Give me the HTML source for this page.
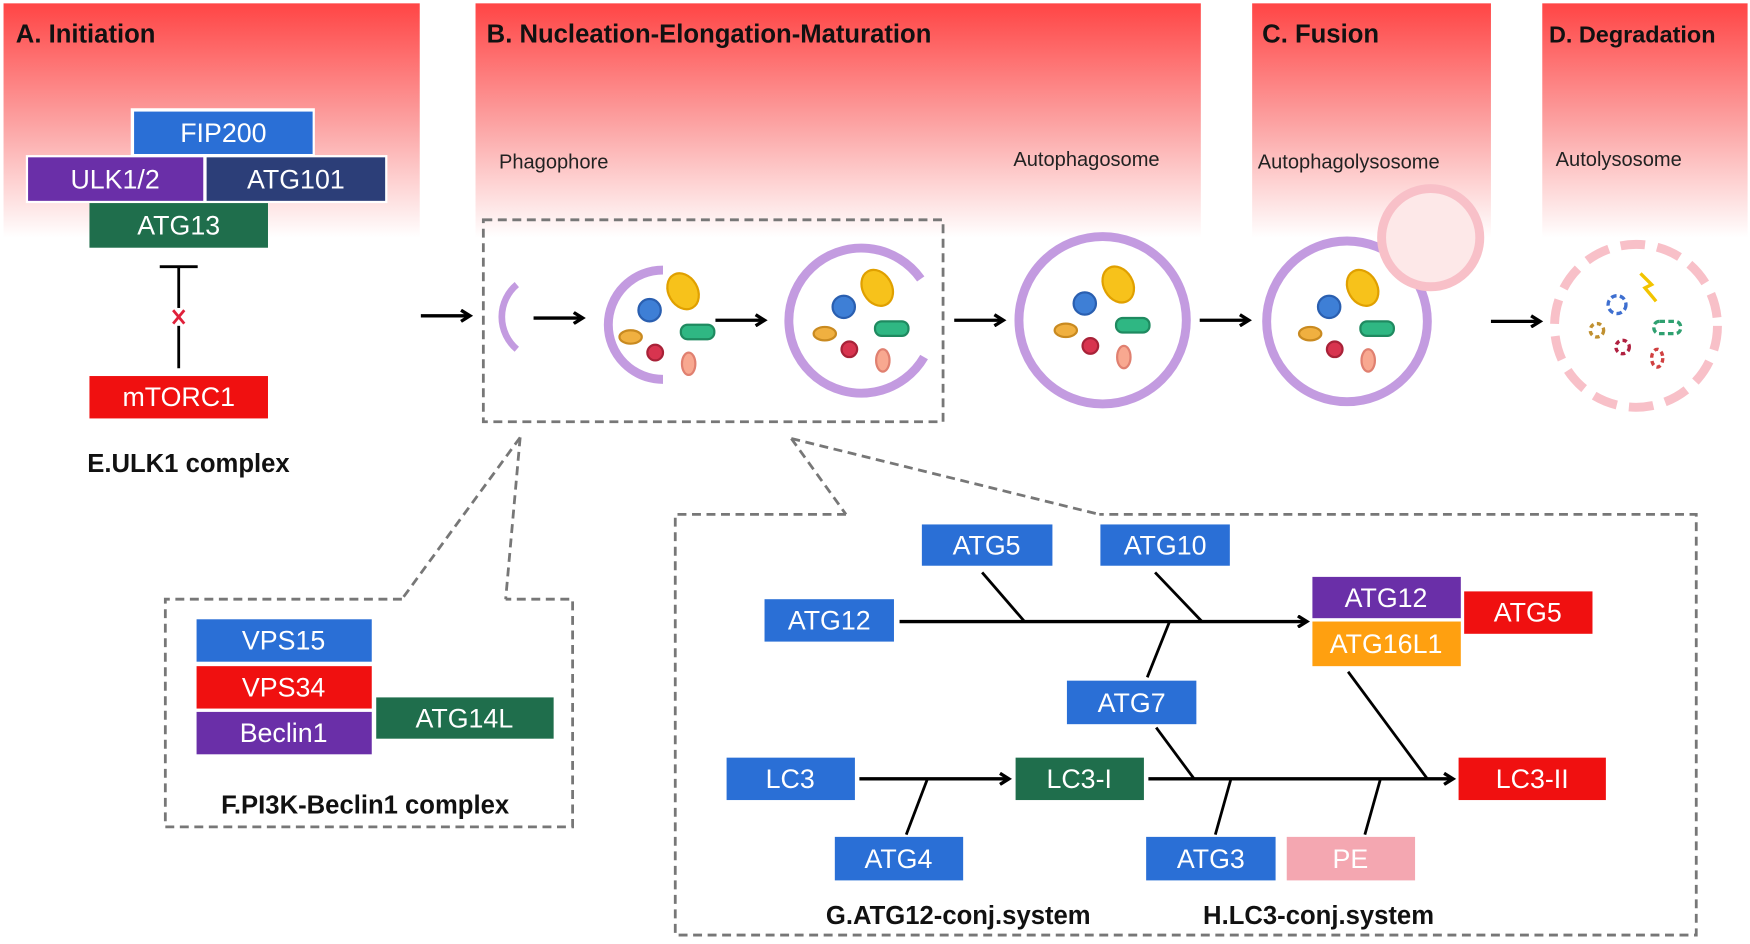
<!DOCTYPE html>
<html><head><meta charset="utf-8"><style>
html,body{margin:0;padding:0;background:#fff}
svg{display:block}
text{font-family:"Liberation Sans",Arial,sans-serif}
.t{font-size:24px;fill:#fff;text-anchor:middle;dominant-baseline:central}
.h{font-size:23px;font-weight:bold;fill:#111}
.s{font-size:18px;fill:#222}
.ln{stroke:#000;stroke-width:2.5;fill:none}
.ar{stroke:#000;stroke-width:3;fill:none}
.dash{stroke:#777;stroke-width:2.5;fill:none;stroke-dasharray:8 5}
.mem{fill:none;stroke:#c39be0;stroke-width:8}
</style></head><body>
<svg width="1750" height="944" viewBox="0 0 1568 846" xmlns="http://www.w3.org/2000/svg">
<defs>
<linearGradient id="g" x1="0" y1="0" x2="0" y2="1">
<stop offset="0" stop-color="#ff4545"/><stop offset="0.5" stop-color="#fca0a0"/><stop offset="1" stop-color="#ffffff"/>
</linearGradient>
<marker id="ar" markerWidth="12" markerHeight="12" refX="9" refY="6" orient="auto" markerUnits="userSpaceOnUse">
<path d="M1,1 L9,6 L1,11" fill="none" stroke="#000" stroke-width="3"/></marker>
<g id="org">
<ellipse cx="14" cy="-32" rx="13" ry="17" transform="rotate(-30 14 -32)" fill="#f7c21b" stroke="#e0a000" stroke-width="2"/>
<circle cx="-16" cy="-15" r="10" fill="#3e7fd6" stroke="#2a5fb0" stroke-width="2"/>
<ellipse cx="-33" cy="9" rx="10" ry="6" fill="#f0b040" stroke="#c98a20" stroke-width="2"/>
<rect x="12" y="-2" width="30" height="13" rx="6" fill="#2fb783" stroke="#1f8a60" stroke-width="2"/>
<circle cx="-11" cy="23" r="7" fill="#d8344f" stroke="#a82238" stroke-width="2"/>
<ellipse cx="19" cy="33" rx="6" ry="10" fill="#f8a890" stroke="#e08070" stroke-width="2"/>
</g>
</defs>
<rect x="3" y="3" width="373" height="210" fill="url(#g)"/>
<rect x="426" y="3" width="650" height="210" fill="url(#g)"/>
<rect x="1122" y="3" width="214" height="210" fill="url(#g)"/>
<rect x="1382" y="3" width="184" height="210" fill="url(#g)"/>
<text class="h" x="14" y="38">A. Initiation</text>
<text class="h" x="436" y="38">B. Nucleation-Elongation-Maturation</text>
<text class="h" x="1131" y="38">C. Fusion</text>
<text class="h" x="1388" y="38" style="font-size:21px">D. Degradation</text>
<text class="s" x="447" y="151">Phagophore</text>
<text class="s" x="908" y="149">Autophagosome</text>
<text class="s" x="1127" y="151">Autophagolysosome</text>
<text class="s" x="1394" y="149">Autolysosome</text>

<rect x="117" y="97" width="165" height="43" fill="#fff"/>
<rect x="23" y="139" width="324" height="43" fill="#fff"/>
<rect x="120" y="100" width="160" height="38" fill="#2a6fd6"/><text class="t" x="200" y="119">FIP200</text>
<rect x="25" y="141" width="157" height="39" fill="#6a2fa8"/><text class="t" x="103" y="161">ULK1/2</text>
<rect x="185" y="141" width="160" height="39" fill="#2c3e78"/><text class="t" x="265" y="161">ATG101</text>
<rect x="80" y="182" width="160" height="40" fill="#1f6e4c"/><text class="t" x="160" y="202">ATG13</text>
<line class="ln" x1="160" y1="240" x2="160" y2="330"/>
<line class="ln" x1="143" y1="239" x2="177" y2="239"/>
<rect x="153" y="276" width="14" height="16" fill="#fff"/>
<path d="M155,278 L165,290 M165,278 L155,290" stroke="#e0203a" stroke-width="2.5"/>
<rect x="80" y="337" width="160" height="38" fill="#f01010"/><text class="t" x="160" y="356">mTORC1</text>
<text class="h" x="78" y="423">E.ULK1 complex</text>

<line class="ar" x1="377" y1="283" x2="421" y2="283" marker-end="url(#ar)"/>
<rect class="dash" x="433" y="197" width="412" height="181"/>
<path class="mem" d="M463,255 A38,38 0 0 0 463,313" style="stroke-width:6"/>
<line class="ar" x1="478" y1="285" x2="522" y2="285" marker-end="url(#ar)"/>
<path class="mem" d="M594,242 A49,49 0 0 0 594,340"/>
<use href="#org" x="598" y="293"/>
<line class="ar" x1="641" y1="287" x2="685" y2="287" marker-end="url(#ar)"/>
<path class="mem" d="M825,250 A65,65 0 1 0 828,320"/>
<use href="#org" x="772" y="290"/>
<line class="ar" x1="855" y1="287" x2="899" y2="287" marker-end="url(#ar)"/>
<circle class="mem" cx="988" cy="287" r="75"/>
<use href="#org" x="988" y="287"/>
<line class="ar" x1="1075" y1="287" x2="1119" y2="287" marker-end="url(#ar)"/>
<circle class="mem" cx="1207" cy="288" r="72"/>
<circle cx="1282" cy="213" r="44" fill="#fde8e8" stroke="#f8c0c8" stroke-width="8"/>
<use href="#org" x="1207" y="290"/>
<line class="ar" x1="1336" y1="288" x2="1380" y2="288" marker-end="url(#ar)"/>
<circle cx="1466" cy="292" r="73" fill="none" stroke="#f8c0c8" stroke-width="8" stroke-dasharray="22 11"/>
<path d="M1470,245 l10,10 l-6,3 l10,12" stroke="#f2c400" stroke-width="3" fill="none"/>
<circle cx="1449" cy="273" r="8" fill="none" stroke="#3e6fd0" stroke-width="3" stroke-dasharray="5 3"/>
<circle cx="1431" cy="296" r="6" fill="none" stroke="#c09030" stroke-width="3" stroke-dasharray="4 3"/>
<rect x="1482" y="288" width="24" height="11" rx="5" fill="none" stroke="#2fa070" stroke-width="3" stroke-dasharray="5 3"/>
<circle cx="1454" cy="311" r="6" fill="none" stroke="#b02040" stroke-width="3" stroke-dasharray="4 3"/>
<ellipse cx="1485" cy="321" rx="5" ry="8" fill="none" stroke="#d04040" stroke-width="3" stroke-dasharray="4 3"/>

<line class="dash" x1="466" y1="392" x2="360" y2="537"/>
<line class="dash" x1="466" y1="392" x2="453" y2="537"/>
<path class="dash" d="M360,537 H148 V741 H513 V537 H453"/>
<rect x="176" y="555" width="157" height="38" fill="#2a6fd6"/><text class="t" x="254" y="574">VPS15</text>
<rect x="176" y="597" width="157" height="38" fill="#f01010"/><text class="t" x="254" y="616">VPS34</text>
<rect x="176" y="638" width="157" height="38" fill="#6a2fa8"/><text class="t" x="254" y="657">Beclin1</text>
<rect x="337" y="625" width="159" height="37" fill="#1f6e4c"/><text class="t" x="416" y="644">ATG14L</text>
<text class="h" x="198" y="729">F.PI3K-Beclin1 complex</text>

<line class="dash" x1="709" y1="393" x2="758" y2="461"/>
<line class="dash" x1="709" y1="393" x2="985" y2="461"/>
<path class="dash" d="M758,461 H605 V838 H1520 V461 H985"/>
<rect x="826" y="470" width="117" height="37" fill="#2a6fd6"/><text class="t" x="884" y="489">ATG5</text>
<rect x="986" y="470" width="116" height="37" fill="#2a6fd6"/><text class="t" x="1044" y="489">ATG10</text>
<rect x="685" y="537" width="116" height="38" fill="#2a6fd6"/><text class="t" x="743" y="556">ATG12</text>
<rect x="1176" y="517" width="133" height="37" fill="#6a2fa8"/><text class="t" x="1242" y="536">ATG12</text>
<rect x="1176" y="557" width="133" height="40" fill="#ffa010"/><text class="t" x="1242" y="577">ATG16L1</text>
<rect x="1312" y="530" width="115" height="38" fill="#f01010"/><text class="t" x="1369" y="549">ATG5</text>
<rect x="956" y="610" width="116" height="39" fill="#2a6fd6"/><text class="t" x="1014" y="630">ATG7</text>
<rect x="651" y="679" width="115" height="38" fill="#2a6fd6"/><text class="t" x="708" y="698">LC3</text>
<rect x="910" y="679" width="115" height="38" fill="#1f6e4c"/><text class="t" x="967" y="698">LC3-I</text>
<rect x="1307" y="679" width="132" height="38" fill="#f01010"/><text class="t" x="1373" y="698">LC3-II</text>
<rect x="748" y="750" width="115" height="39" fill="#2a6fd6"/><text class="t" x="805" y="770">ATG4</text>
<rect x="1027" y="750" width="116" height="39" fill="#2a6fd6"/><text class="t" x="1085" y="770">ATG3</text>
<rect x="1153" y="750" width="115" height="39" fill="#f4a7b1"/><text class="t" x="1210" y="770">PE</text>

<line class="ar" x1="806" y1="557" x2="1171" y2="557" marker-end="url(#ar)"/>
<line class="ln" x1="880" y1="513" x2="918" y2="557"/>
<line class="ln" x1="1035" y1="513" x2="1077" y2="557"/>
<line class="ln" x1="1048" y1="557" x2="1028" y2="607"/>
<line class="ar" x1="770" y1="698" x2="904" y2="698" marker-end="url(#ar)"/>
<line class="ln" x1="831" y1="698" x2="812" y2="748"/>
<line class="ar" x1="1029" y1="698" x2="1302" y2="698" marker-end="url(#ar)"/>
<line class="ln" x1="1036" y1="652" x2="1070" y2="698"/>
<line class="ln" x1="1103" y1="698" x2="1089" y2="748"/>
<line class="ln" x1="1237" y1="698" x2="1223" y2="748"/>
<line class="ln" x1="1208" y1="602" x2="1279" y2="698"/>
<text class="h" x="740" y="828">G.ATG12-conj.system</text>
<text class="h" x="1078" y="828">H.LC3-conj.system</text>
</svg>
</body></html>
